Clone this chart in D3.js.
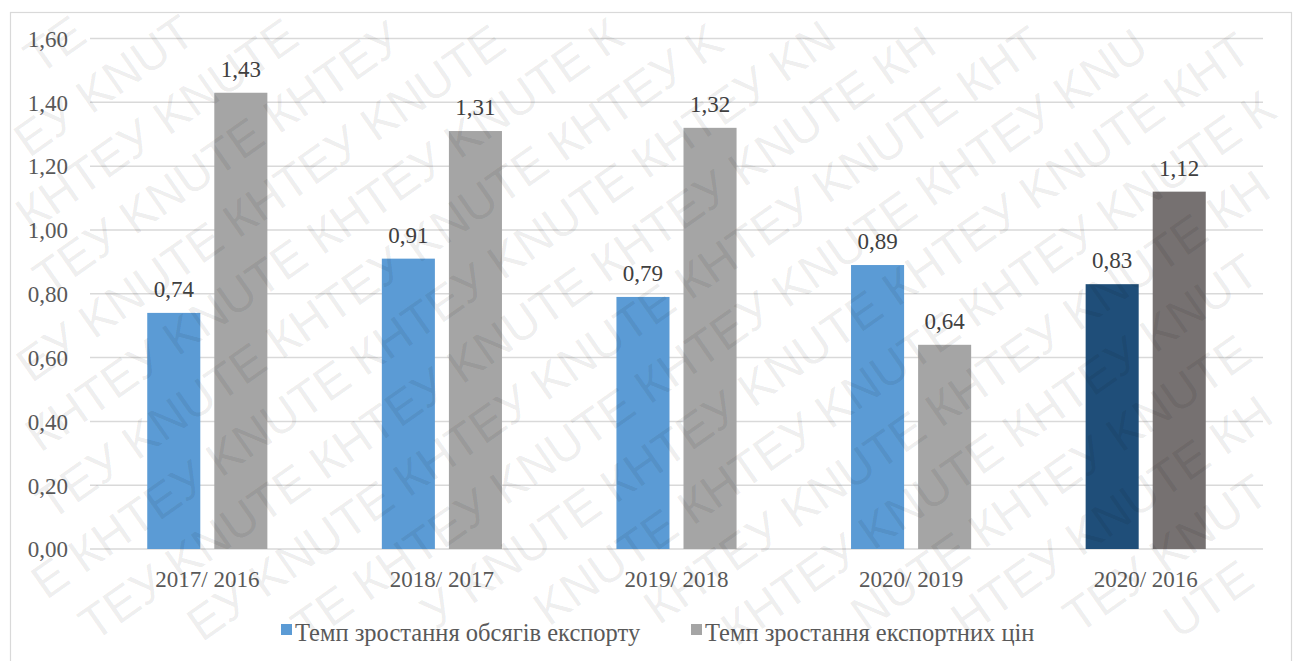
<!DOCTYPE html>
<html>
<head>
<meta charset="utf-8">
<script src="https://cdn.jsdelivr.net/npm/d3@7/dist/d3.min.js"></script>
<style>
  html, body { margin: 0; padding: 0; background: #fff; }
  svg { display: block; }
</style>
</head>
<body>
<svg id="chart" width="1296" height="661"></svg>
<script>
// Growth rates of Ukrainian export volumes and export prices
const categories = ["2017/ 2016", "2018/ 2017", "2019/ 2018", "2020/ 2019", "2020/ 2016"];
const volumeGrowth = [0.74, 0.91, 0.79, 0.89, 0.83];
const priceGrowth = [1.43, 1.31, 1.32, 0.64, 1.12];
const seriesNames = ["Темп зростання обсягів експорту", "Темп зростання експортних цін"];
const yTicks = [0, 0.2, 0.4, 0.6, 0.8, 1.0, 1.2, 1.4, 1.6];
const watermarkWords = ["KNUTE", "КНТЕУ"];

const W = 1296, H = 661;
const margin = { left: 90, right: 1263, top: 38.5, bottom: 549 };
const SERIF = '"Liberation Serif", "Times New Roman", Times, serif';
const SANS = '"Liberation Sans", Arial, sans-serif';
const fmt = v => d3.format(".2f")(v).replace(".", ",");

const seriesColors = ["#5b9bd5", "#a5a5a5"];
const summaryColors = ["#1f4e79", "#767171"];   // the multi-year comparison column
const summaryIndex = categories.length - 1;

const svg = d3.select("#chart");

// outer frame
svg.append("rect")
  .attr("x", 10.5).attr("y", 12.5)
  .attr("width", 1281).attr("height", 670)
  .attr("fill", "#fff").attr("stroke", "#d9d9d9").attr("stroke-width", 1.2);

const x = d3.scaleBand().domain(categories)
  .range([margin.left, margin.right])
  .paddingInner(0.488).paddingOuter(0.244);
const xs = d3.scaleBand().domain([0, 1])
  .range([0, x.bandwidth()]).paddingInner(0.209);
const y = d3.scaleLinear().domain([0, 1.6]).range([margin.bottom, margin.top]);

// horizontal gridlines
svg.append("g").selectAll("line").data(yTicks).join("line")
  .attr("x1", margin.left).attr("x2", margin.right)
  .attr("y1", d => y(d)).attr("y2", d => y(d))
  .attr("stroke", "#d9d9d9").attr("stroke-width", 1.5);

// y tick labels
const yAxis = d3.axisLeft(y).tickValues(yTicks).tickFormat(fmt).tickSize(0).tickPadding(0);
const ya = svg.append("g").attr("transform", "translate(68,0)").call(yAxis);
ya.select(".domain").remove();
ya.selectAll("text")
  .style("font-family", SERIF).style("font-size", "23px").attr("fill", "#595959")
  .attr("dy", "0.34em");

// x category labels
const xAxis = d3.axisBottom(x).tickSize(0).tickPadding(0);
const xa = svg.append("g").attr("transform", `translate(0,${margin.bottom})`).call(xAxis);
xa.select(".domain").remove();
xa.selectAll("text")
  .style("font-family", SERIF).style("font-size", "23px").attr("fill", "#595959")
  .attr("y", 38).attr("dy", 0);

// bars
const rows = categories.map((c, i) => ({
  cat: c, i,
  vals: [volumeGrowth[i], priceGrowth[i]]
}));

const groups = svg.append("g").selectAll("g").data(rows).join("g")
  .attr("transform", d => `translate(${x(d.cat)},0)`);

groups.selectAll("rect").data(d => d.vals.map((v, s) => ({ v, s, i: d.i }))).join("rect")
  .attr("x", d => xs(d.s))
  .attr("width", xs.bandwidth())
  .attr("y", d => y(d.v))
  .attr("height", d => y(0) - y(d.v))
  .attr("fill", d => (d.i === summaryIndex ? summaryColors : seriesColors)[d.s]);

groups.selectAll("text.val").data(d => d.vals.map((v, s) => ({ v, s }))).join("text")
  .attr("class", "val")
  .attr("x", d => xs(d.s) + xs.bandwidth() / 2)
  .attr("y", d => y(d.v) - 16)
  .attr("text-anchor", "middle")
  .style("font-family", SERIF).style("font-size", "23px").attr("fill", "#404040")
  .text(d => fmt(d.v));

// legend
const legendItems = [
  { name: seriesNames[0], color: seriesColors[0], x: 281 },
  { name: seriesNames[1], color: seriesColors[1], x: 691 }
];
const lg = svg.append("g").selectAll("g").data(legendItems).join("g")
  .attr("transform", d => `translate(${d.x},0)`);
lg.append("rect").attr("x", 0).attr("y", 624).attr("width", 11).attr("height", 11)
  .attr("fill", d => d.color);
lg.append("text").attr("x", 14).attr("y", 641)
  .style("font-family", SERIF).style("font-size", "24.5px").attr("fill", "#595959")
  .text(d => d.name);

// diagonal university watermark on rotated rows; near the sheet edges only
// the letters whose whole glyph box fits are kept, so fragments stay on the page
const deg = -35, ang = deg * Math.PI / 180;
const ca = Math.cos(ang), sa = Math.sin(ang);
const wmSize = 48, rowStep = 62;
const ascent = wmSize * 0.92, descent = wmSize * 0.23;
const wm = svg.append("g").attr("pointer-events", "none");

const probe = wm.append("text").style("font-family", SANS).style("font-size", wmSize + "px");
const widthCache = {};
const textWidth = s => {
  if (s === "") return 0;
  if (!(s in widthCache)) { probe.text(s); widthCache[s] = probe.node().getComputedTextLength(); }
  return widthCache[s];
};
const spaceW = textWidth("K K") - 2 * textWidth("K");

const toScreen = (u, v) => [W / 2 + u * ca - v * sa, H / 2 + u * sa + v * ca];
const inside = (u, v) => {
  const [px, py] = toScreen(u, v);
  return px >= 3 && px <= W - 3 && py >= 3 && py <= H - 3;
};

d3.range(-13, 14).forEach(r => {
  const v = r * rowStep;
  let u = -1500 + ((r * 83) % 200 + 200) % 200;
  let k = ((r % 2) + 2) % 2;
  while (u < 1500) {
    const word = watermarkWords[k % 2];
    const ok = Array.from(word).map((ch, i) => {
      const a = u + textWidth(word.slice(0, i)), b = u + textWidth(word.slice(0, i + 1));
      return inside(a, v + descent) && inside(b, v + descent) &&
             inside(a, v - ascent) && inside(b, v - ascent);
    });
    // longest run of letters that fit on the page
    let best = [0, 0], start = -1;
    ok.forEach((f, i) => {
      if (f && start < 0) start = i;
      if ((!f || i === ok.length - 1) && start >= 0) {
        const end = f ? i + 1 : i;
        if (end - start > best[1] - best[0]) best = [start, end];
        start = -1;
      }
    });
    if (best[1] > best[0]) {
      const [px, py] = toScreen(u + textWidth(word.slice(0, best[0])), v);
      wm.append("text")
        .attr("transform", `translate(${px.toFixed(1)},${py.toFixed(1)}) rotate(${deg})`)
        .style("font-family", SANS).style("font-size", wmSize + "px")
        .attr("fill", "#000").attr("fill-opacity", 0.075)
        .text(word.slice(best[0], best[1]));
    }
    u += textWidth(word) + spaceW;
    k++;
  }
});
probe.remove();
</script>
</body>
</html>
